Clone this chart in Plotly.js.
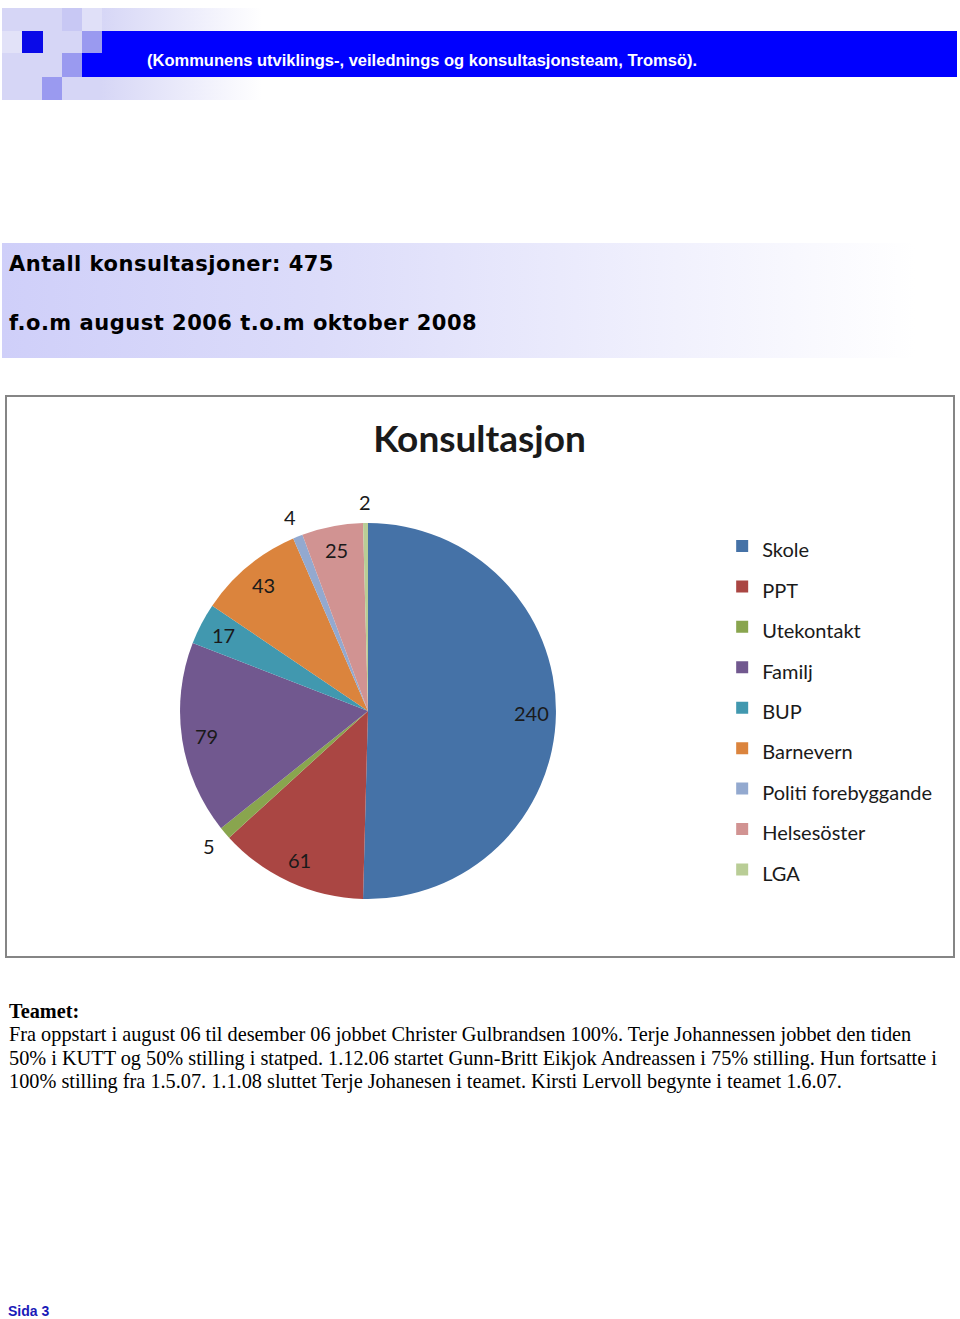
<!DOCTYPE html>
<html>
<head>
<meta charset="utf-8">
<script src="https://cdn.plot.ly/plotly-3.0.1.min.js"></script>
<style>
  html, body { margin:0; padding:0; background:#fff; }
  body { width:960px; height:1319px; position:relative; overflow:hidden; }
  .abs { position:absolute; }
  #hdrbg { left:2px; top:8px; width:260px; height:92px;
    background:linear-gradient(to right, #d6d6f6 0%, #d6d6f6 38%, #ffffff 100%); }
  #bar { left:82px; top:31px; width:875px; height:46px; background:#0000ff; }
  #bartext { left:147px; top:51px; color:#fff; font-family:"Liberation Sans", Arial, sans-serif;
    font-weight:bold; font-size:16.5px; white-space:nowrap; }
  #infobox { left:2px; top:243px; width:913px; height:115px;
    background:linear-gradient(to right, #cfcff9 0%, #dcdcfa 35%, #ffffff 100%); }
  .info { left:9px; font-family:"DejaVu Sans",sans-serif; font-weight:bold;
    font-size:21px; letter-spacing:0.5px; color:#000; white-space:nowrap; }
  #chartbox { left:5px; top:395px; width:946px; height:559px; border:2px solid #858585; background:#fff; }
  #chart { width:946px; height:559px; }
  #text { left:9px; top:999.5px; font-family:"Liberation Serif","Times New Roman",serif; font-size:20.3px;
    line-height:23.5px; color:#000; white-space:nowrap; }
  #sida { left:8px; top:1304px; height:14px; line-height:14px; font-family:"Liberation Sans", Arial, sans-serif; font-weight:bold;
    font-size:14px; color:#1a1ab8; white-space:nowrap; }
</style>
</head>
<body>
<div id="hdrbg" class="abs"></div>
<div class="abs" style="left:62px;top:8px;width:20px;height:23px;background:#c8c8f4;"></div>
<div class="abs" style="left:82px;top:8px;width:20px;height:23px;background:#e0e0f8;"></div>
<div class="abs" style="left:2px;top:31px;width:20px;height:22px;background:#e2e2f8;"></div>
<div id="bar" class="abs"></div>
<div class="abs" style="left:22px;top:31px;width:21px;height:22px;background:#0a0ae8;"></div>
<div class="abs" style="left:82px;top:31px;width:20px;height:22px;background:#9a9af0;"></div>
<div class="abs" style="left:62px;top:53px;width:20px;height:24px;background:#9a9af0;"></div>
<div class="abs" style="left:42px;top:77px;width:20px;height:23px;background:#9a9af0;"></div>
<div id="bartext" class="abs">(Kommunens utviklings-, veilednings og konsultasjonsteam, Tromsö).</div>

<div id="infobox" class="abs"></div>
<div class="abs info" style="top:252px;">Antall konsultasjoner: 475</div>
<div class="abs info" style="top:311px;">f.o.m august 2006 t.o.m oktober 2008</div>

<div id="chartbox" class="abs"><div id="chart"></div></div>

<div id="text" class="abs"><b>Teamet:</b><br>Fra oppstart i august 06 til desember 06 jobbet Christer Gulbrandsen 100%. Terje Johannessen jobbet den tiden<br>50% i KUTT og 50% stilling i statped. 1.12.06 startet Gunn-Britt Eikjok Andreassen i 75% stilling. Hun fortsatte i<br>100% stilling fra 1.5.07. 1.1.08 sluttet Terje Johanesen i teamet. Kirsti Lervoll begynte i teamet 1.6.07.</div>

<div id="sida" class="abs">Sida 3</div>

<script>
const categories = ["Skole", "PPT", "Utekontakt", "Familj", "BUP", "Barnevern", "Politi forebyggande", "Helsesöster", "LGA"];
const values = [240, 61, 5, 79, 17, 43, 4, 25, 2];
const colors = ["#4572A7", "#AA4643", "#89A54E", "#71588F", "#4198AF", "#DB843D", "#93A9CF", "#D19392", "#B9CD96"];
const labelOutside = [false, false, true, false, false, false, true, false, true];

const fontFam = "Lato, 'Open Sans', sans-serif";
const W = 946, H = 559;
const domX = [0.1829, 0.5803], domY = [0.102, 0.7746];

const legendLabels = categories.map(c => '<span style="font-size:20px">' + c + '</span>');

const trace = {
  type: 'pie',
  labels: legendLabels,
  values: values,
  sort: false,
  direction: 'clockwise',
  rotation: 0,
  marker: { colors: colors, line: { color: '#ffffff', width: 0 } },
  textinfo: 'none',
  domain: { x: domX, y: domY },
  hoverinfo: 'skip',
  automargin: false
};

// data labels placed at each slice's mid-angle
const total = values.reduce((a, b) => a + b, 0);
const rPx = Math.min((domX[1] - domX[0]) * W, (domY[1] - domY[0]) * H) / 2;
const cx = (domX[0] + domX[1]) / 2, cy = (domY[0] + domY[1]) / 2;
let cum = 0;
const annotations = values.map((v, i) => {
  const theta = 2 * Math.PI * (cum + v / 2) / total;
  cum += v;
  const k = labelOutside[i] ? 1.11 : 0.87;
  return {
    xref: 'paper', yref: 'paper',
    x: cx + Math.sin(theta) * k * rPx / W,
    y: cy + Math.cos(theta) * k * rPx / H,
    text: String(v), showarrow: false, xanchor: 'center', yanchor: 'middle',
    font: { family: fontFam, size: 20, color: '#1a1a1a' }
  };
});

const layout = {
  width: W, height: H,
  margin: { l: 0, r: 0, t: 0, b: 0 },
  paper_bgcolor: '#ffffff',
  title: { text: '<b>Konsultasjon</b>', font: { family: fontFam, size: 37, color: '#1a1a1a' },
           x: 0.4995, xanchor: 'center', y: 0.925, yanchor: 'middle' },
  showlegend: true,
  legend: { x: 0.756, xanchor: 'left', y: 0.7786, yanchor: 'top',
            font: { family: fontFam, size: 28.8, color: '#1a1a1a' }, bgcolor: 'rgba(0,0,0,0)' },
  annotations: annotations
};

Plotly.newPlot('chart', [trace], layout, { staticPlot: true, displayModeBar: false });
</script>
</body>
</html>
